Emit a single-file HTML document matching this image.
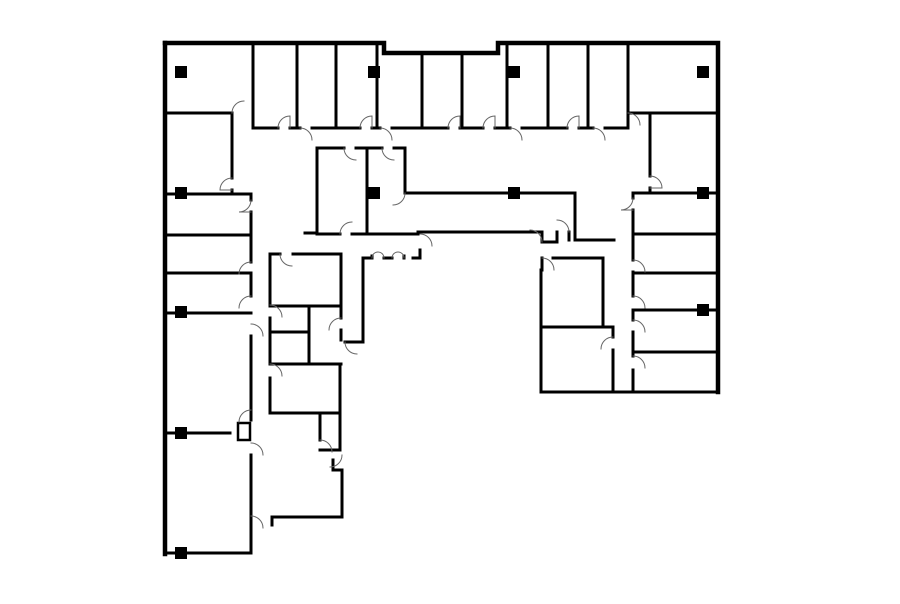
<!DOCTYPE html>
<html><head><meta charset="utf-8"><style>html,body{margin:0;padding:0;background:#fff}svg{display:block}</style></head>
<body>
<svg width="900" height="604" viewBox="0 0 900 604" xmlns="http://www.w3.org/2000/svg">
<g fill="none" stroke="#000" stroke-linecap="square">
<!-- outer thick walls -->
<path d="M165 43 H384 V53 H498 V43 H718 V392" stroke-width="4.5"/>
<path d="M165 43 V554" stroke-width="4.5"/>
<g stroke-width="3">
<path d="M165 553 H251 V455"/>
<path d="M251 420 V336"/>
<path d="M541 392 H718"/>
<!-- top-left room -->
<path d="M165 113 H232 V178"/>
<path d="M232 190 V194"/>
<!-- top offices -->
<path d="M253 43 V128 H278"/>
<path d="M290 128 H297 V43"/>
<path d="M297 128 H300"/>
<path d="M312 128 H336 V43"/>
<path d="M336 128 H360"/>
<path d="M372 128 H377 V43"/>
<path d="M377 128 H380"/>
<path d="M392 128 H422 V53"/>
<path d="M422 128 H448"/>
<path d="M460 128 H462 V53"/>
<path d="M462 128 H483"/>
<path d="M495 128 H507 V43"/>
<path d="M507 128 H510"/>
<path d="M522 128 H548 V43"/>
<path d="M548 128 H567"/>
<path d="M579 128 H588 V43"/>
<path d="M588 128 H593"/>
<path d="M605 128 H628 V113 H718"/>
<path d="M628 43 V113"/>
<!-- right column -->
<path d="M650 113 V176"/>
<path d="M650 188 V193 H718"/>
<path d="M633 193 H650"/>
<path d="M633 193 V198"/>
<path d="M633 210 V260"/>
<path d="M633 234 H718"/>
<path d="M633 273 H718"/>
<path d="M633 272 V296"/>
<path d="M633 310 H718"/>
<path d="M633 310 V320"/>
<path d="M633 332 V356"/>
<path d="M633 352 H718"/>
<path d="M633 370 V392"/>
<!-- right wing inner rooms -->
<path d="M541 270 V392"/>
<path d="M553 258 H603 V327"/>
<path d="M541 327 H613 V337"/>
<path d="M613 350 V392"/>
<!-- left column rooms -->
<path d="M232 194 H251 V200"/>
<path d="M165 194 H232"/>
<path d="M251 212 V262"/>
<path d="M165 235 H251"/>
<path d="M165 273 H251"/>
<path d="M251 274 V296"/>
<path d="M165 313 H251"/>
<path d="M165 433 H230"/>
<path d="M238 423 H250 V440 H238 Z" stroke-width="2.5"/>
<!-- center corridor -->
<path d="M317 148 H344"/>
<path d="M356 148 H382"/>
<path d="M394 148 H405 V193 H575 V240 H614"/>
<path d="M317 148 V234 H340"/>
<path d="M352 234 H367"/>
<path d="M367 148 V234 H418 V232 H542 V242 H557 V232"/>
<path d="M569 232 V240"/>
<path d="M542 258 V270"/>
<path d="M305 233 H317"/>
<path d="M363 342 V258 H372"/>
<path d="M413 258 H420 V250"/>
<path d="M372 258 V256 M384 258 H392 M404 258 V256"/>
<path d="M345 342 H363"/>
<path d="M271 254 H280"/>
<path d="M293 254 H341 V318"/>
<path d="M341 330 V340"/>
<!-- inner left block -->
<path d="M270 254 V305"/>
<path d="M270 318 V364"/>
<path d="M270 378 V413 H340"/>
<path d="M270 306 H341"/>
<path d="M309 306 V364"/>
<path d="M270 332 H309"/>
<path d="M270 364 H341"/>
<path d="M340 364 V450"/>
<path d="M320 413 V440"/>
<path d="M320 450 H340"/>
<path d="M342 470 V517 H272 V525"/>
<path d="M333 460 V470 H342"/>
</g>
<!-- doors -->
<g stroke="#666" stroke-width="1">
<path d="M232 178 a12 12 0 0 0 -12 12 h12"/>
<path d="M278 128 a12 12 0 0 1 12 -12 v12"/>
<path d="M300 128 a12 12 0 0 1 12 12"/>
<path d="M360 128 a12 12 0 0 1 12 -12 v12"/>
<path d="M380 128 a12 12 0 0 1 12 12"/>
<path d="M448 128 a12 12 0 0 1 12 -12 v12"/>
<path d="M483 128 a12 12 0 0 1 12 -12 v12"/>
<path d="M510 128 a12 12 0 0 1 12 12"/>
<path d="M567 128 a12 12 0 0 1 12 -12 v12"/>
<path d="M593 128 a12 12 0 0 1 12 12"/>
<path d="M232 113 a12 12 0 0 1 12 -12"/>
<path d="M628 113 a12 12 0 0 1 12 12"/>
<path d="M650 176 a12 12 0 0 1 12 12 h-12"/>
<path d="M633 198 a12 12 0 0 1 -12 12 h12"/>
<path d="M251 200 a12 12 0 0 1 -12 12 h12"/>
<path d="M251 262 a12 12 0 0 0 -12 12"/>
<path d="M251 296 a12 12 0 0 0 -12 12"/>
<path d="M251 324 a12 12 0 0 1 12 12"/>
<path d="M251 410 a12 12 0 0 0 -12 12"/>
<path d="M251 443 a12 12 0 0 1 12 12"/>
<path d="M251 516 a12 12 0 0 1 12 12"/>
<path d="M633 260 a12 12 0 0 1 12 12"/>
<path d="M633 296 a12 12 0 0 1 12 12"/>
<path d="M633 320 a12 12 0 0 1 12 12"/>
<path d="M633 356 a12 12 0 0 1 12 12"/>
<path d="M542 258 a12 12 0 0 1 12 12"/>
<path d="M542 242 a12 12 0 0 0 -12 -12"/>
<path d="M569 232 a12 12 0 0 0 -12 -12"/>
<path d="M613 337 a12 12 0 0 0 -12 12"/>
<path d="M344 148 a12 12 0 0 0 12 12"/>
<path d="M382 148 a12 12 0 0 0 12 12"/>
<path d="M340 234 a12 12 0 0 1 12 -12"/>
<path d="M405 193 a12 12 0 0 1 -12 12"/>
<path d="M420 234 a12 12 0 0 1 12 12"/>
<path d="M372 258 a6 6 0 0 1 6 -6 a6 6 0 0 1 6 6 M392 258 a6 6 0 0 1 6 -6 a6 6 0 0 1 6 6"/>
<path d="M280 254 a12 12 0 0 0 12 12"/>
<path d="M270 305 a12 12 0 0 1 12 12"/>
<path d="M270 364 a12 12 0 0 1 12 12"/>
<path d="M341 318 a12 12 0 0 0 -12 12"/>
<path d="M345 342 a12 12 0 0 0 12 12"/>
<path d="M320 440 a12 12 0 0 1 12 12"/>
<path d="M342 455 a12 12 0 0 1 -12 12"/>
</g>
</g>
<g fill="#000">
<rect x="175" y="66" width="12" height="12"/>
<rect x="368" y="66" width="12" height="12"/>
<rect x="508" y="66" width="12" height="12"/>
<rect x="697" y="66" width="12" height="12"/>
<rect x="175" y="187" width="12" height="12"/>
<rect x="368" y="187" width="12" height="12"/>
<rect x="508" y="187" width="12" height="12"/>
<rect x="697" y="187" width="12" height="12"/>
<rect x="175" y="306" width="12" height="12"/>
<rect x="697" y="304" width="12" height="12"/>
<rect x="175" y="427" width="12" height="12"/>
<rect x="175" y="547" width="12" height="12"/>
</g>
</svg>
</body></html>
